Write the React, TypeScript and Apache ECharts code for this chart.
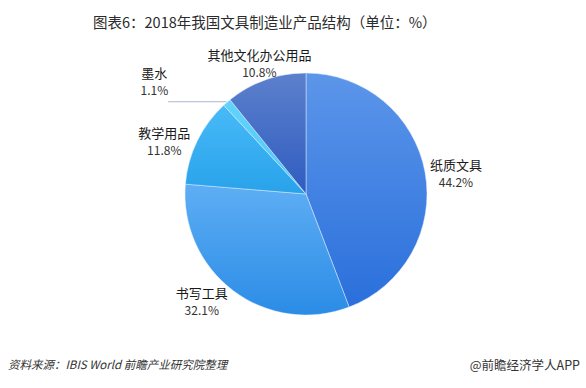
import React, { useEffect, useRef } from "react";
import * as echarts from "echarts";

const categories = ["纸质文具", "书写工具", "教学用品", "墨水", "其他文化办公用品"];
const values = [44.2, 32.1, 11.8, 1.1, 10.8];
const topColors = ["#5c96ea", "#5eaef4", "#48baf8", "#62d4fb", "#5c80cc"];
const bottomColors = ["#2a6fdb", "#2b8ce6", "#28a2ea", "#4cc6f8", "#2f5cc0"];
const labelOffsets: [number, number][] = [
  [-1, 1],
  [0, 9],
  [-1, 0],
  [0, 0],
  [51, -16],
];

export default function App() {
  const ref = useRef<HTMLDivElement>(null);
  useEffect(() => {
    document.body.style.margin = "0";
    if (!ref.current) return;
    const chart = echarts.init(ref.current, null, { renderer: "svg" });
    const data = categories.map((name, i) => ({
      name,
      value: values[i],
      itemStyle: {
        color: new echarts.graphic.LinearGradient(0, 0, 0, 1, [
          { offset: 0, color: topColors[i] },
          { offset: 1, color: bottomColors[i] },
        ]),
      },
      label: i === 3 ? { padding: [0, 0, 42, 0], distanceToLabelLine: 0 } : {},
      labelLine: {
        show: i === 3,
        length: 1,
        length2: i === 3 ? 58 : 0,
        lineStyle: { color: "#a9b8cc", width: 1 },
      },
    }));
    chart.setOption({
      animation: false,
      backgroundColor: "#ffffff",
      title: {
        text: "图表6：2018年我国文具制造业产品结构（单位：%）",
        left: 88,
        top: 9,
        textStyle: {
          fontFamily: "Noto Sans CJK SC",
          fontSize: 14.5,
          fontWeight: "normal",
          color: "#2b2b2b",
        },
      },
      graphic: [
        {
          type: "text",
          left: 8,
          top: 358,
          style: {
            text: "资料来源：IBIS World 前瞻产业研究院整理",
            font: "italic 11.5px 'Noto Sans CJK SC'",
            fill: "#333333",
          },
        },
        {
          type: "text",
          right: 6,
          top: 358,
          style: {
            text: "@前瞻经济学人APP",
            font: "12.5px 'Noto Sans CJK SC'",
            fill: "#333333",
          },
        },
      ],
      series: [
        {
          type: "pie",
          center: [306, 194],
          radius: 121,
          startAngle: 90,
          clockwise: true,
          avoidLabelOverlap: false,
          data,
          itemStyle: { borderColor: "rgba(230,240,255,0.6)", borderWidth: 0.8 },
          label: {
            show: true,
            position: "outside",
            formatter: (p: any) => `{n|${p.name}}\n{v|${p.value}%}`,
            rich: {
              n: { fontFamily: "Noto Sans CJK SC", fontSize: 13, color: "#1a1a1a", lineHeight: 17, align: "center" },
              v: { fontFamily: "Noto Sans CJK SC", fontSize: 12, color: "#333333", lineHeight: 16, align: "center" },
            },
          },
          labelLayout: (params: any) => {
            const o = labelOffsets[params.dataIndex];
            return { dx: o[0], dy: o[1], hideOverlap: false };
          },
        },
      ],
    });
    return () => chart.dispose();
  }, []);
  return <div ref={ref} style={{ width: 586, height: 388 }} />;
}
